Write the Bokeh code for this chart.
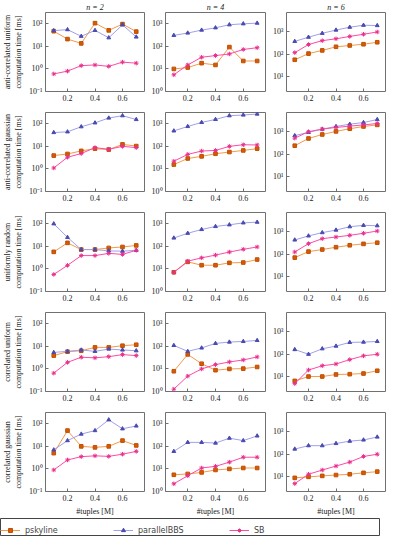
from bokeh.plotting import figure
from bokeh.layouts import column, row
from bokeh.models import Range1d, FixedTicker, CustomJSTickFormatter, Legend, LegendItem
from bokeh.embed import file_html
from bokeh.resources import INLINE

# ---------------- data ----------------
tuples_m = [0.1, 0.2, 0.3, 0.4, 0.5, 0.6, 0.7]
dims = ["n = 2", "n = 4", "n = 6"]
distributions = ["anti-correlated uniform", "anti-correlated gaussian",
                 "uniformly random", "correlated uniform", "correlated gaussian"]
series_names = ["pskyline", "parallelBBS", "SB"]

# anti-correlated uniform
acu_n2_pskyline = [47, 21, 13.5, 107, 51, 97, 45]
acu_n2_parallelbbs = [50, 55, 28, 51, 24, 90, 26]
acu_n2_sb = [0.6, 0.8, 1.4, 1.5, 1.3, 2.0, 1.8]
acu_n4_pskyline = [10, 11.5, 18, 15, 93, 22.5, 22.5]
acu_n4_parallelbbs = [307, 390, 525, 665, 905, 1000, 1070]
acu_n4_sb = [5.5, 15, 33, 39, 46, 73, 87]
acu_n6_pskyline = [57, 107, 148, 214, 245, 278, 340]
acu_n6_parallelbbs = [372, 570, 850, 1180, 1580, 1930, 1870]
acu_n6_sb = [118, 270, 400, 485, 615, 770, 970]

# anti-correlated gaussian
acg_n2_pskyline = [3.9, 4.6, 6.3, 7.9, 7.2, 12.2, 10.3]
acg_n2_parallelbbs = [41, 44, 74, 110, 180, 228, 155]
acg_n2_sb = [1.1, 3.3, 4.8, 8.8, 7.4, 10, 8.8]
acg_n4_pskyline = [15.6, 29, 36, 47, 56, 66, 79]
acg_n4_parallelbbs = [485, 760, 1150, 1560, 2280, 2450, 2700]
acg_n4_sb = [22, 44, 62, 66, 100, 118, 115]
acg_n6_pskyline = [240, 500, 750, 1030, 1350, 1700, 2000]
acg_n6_parallelbbs = [670, 935, 1300, 1700, 2150, 2550, 3450]
acg_n6_sb = [515, 1000, 1300, 1540, 1760, 2000, 2300]

# uniformly random
ur_n2_pskyline = [5.7, 14.3, 7.2, 7.2, 8.5, 9.4, 11]
ur_n2_parallelbbs = [100, 25, 7.2, 7.2, 6.3, 6.1, 6.7]
ur_n2_sb = [0.57, 1.44, 3.9, 3.9, 4.9, 4.4, 6.7]
ur_n4_pskyline = [7.1, 20.6, 14.6, 14.6, 18.6, 19.2, 26]
ur_n4_parallelbbs = [235, 380, 560, 760, 900, 1100, 1180]
ur_n4_sb = [7.1, 22, 31, 41, 56, 74, 94]
ur_n6_pskyline = [71, 131, 162, 205, 250, 288, 325]
ur_n6_parallelbbs = [430, 650, 910, 1180, 1660, 1910, 1830]
ur_n6_sb = [126, 295, 490, 580, 690, 850, 1070]

# correlated uniform
cu_n2_pskyline = [3.9, 5.8, 6.4, 9.0, 9.0, 10.7, 11.8]
cu_n2_parallelbbs = [5.4, 6.0, 6.9, 6.0, 7.6, 6.9, 6.4]
cu_n2_sb = [0.65, 1.96, 3.3, 3.1, 3.5, 4.3, 3.9]
cu_n4_pskyline = [7.9, 44, 17, 8.8, 10, 10.3, 12.2]
cu_n4_parallelbbs = [110, 60, 85, 135, 155, 165, 183]
cu_n4_sb = [1.27, 4.8, 10, 15.5, 20.4, 25, 34]
cu_n6_pskyline = [6.6, 10.3, 10.3, 12.7, 13.1, 14, 18.6]
cu_n6_parallelbbs = [162, 100, 175, 230, 335, 345, 370]
cu_n6_sb = [5.0, 20, 31, 37, 58, 85, 100]

# correlated gaussian
cg_n2_pskyline = [5, 50, 10, 9, 10, 18, 11]
cg_n2_parallelbbs = [7, 18, 35, 50, 150, 60, 80]
cg_n2_sb = [0.9, 2.5, 3.5, 3.8, 3.6, 4.5, 6]
cg_n4_pskyline = [5.5, 6, 7, 9, 10, 11, 11]
cg_n4_parallelbbs = [60, 150, 150, 140, 230, 180, 290]
cg_n4_sb = [2.2, 5, 11, 13, 20, 33, 33]
cg_n6_pskyline = [9, 10, 11, 12, 13, 15, 17]
cg_n6_parallelbbs = [170, 240, 240, 300, 380, 430, 580]
cg_n6_sb = [5, 13, 20, 30, 45, 80, 100]

y_ticks_by_col = [[0.1, 1, 10, 100], [1, 10, 100, 1000], [10, 100, 1000]]
x_ticks = [0.2, 0.4, 0.6]

panels = [
    [(acu_n2_pskyline, acu_n2_parallelbbs, acu_n2_sb),
     (acu_n4_pskyline, acu_n4_parallelbbs, acu_n4_sb),
     (acu_n6_pskyline, acu_n6_parallelbbs, acu_n6_sb)],
    [(acg_n2_pskyline, acg_n2_parallelbbs, acg_n2_sb),
     (acg_n4_pskyline, acg_n4_parallelbbs, acg_n4_sb),
     (acg_n6_pskyline, acg_n6_parallelbbs, acg_n6_sb)],
    [(ur_n2_pskyline, ur_n2_parallelbbs, ur_n2_sb),
     (ur_n4_pskyline, ur_n4_parallelbbs, ur_n4_sb),
     (ur_n6_pskyline, ur_n6_parallelbbs, ur_n6_sb)],
    [(cu_n2_pskyline, cu_n2_parallelbbs, cu_n2_sb),
     (cu_n4_pskyline, cu_n4_parallelbbs, cu_n4_sb),
     (cu_n6_pskyline, cu_n6_parallelbbs, cu_n6_sb)],
    [(cg_n2_pskyline, cg_n2_parallelbbs, cg_n2_sb),
     (cg_n4_pskyline, cg_n4_parallelbbs, cg_n4_sb),
     (cg_n6_pskyline, cg_n6_parallelbbs, cg_n6_sb)],
]

# ---------------- style ----------------
FONT = "Liberation Serif"
FS = "8px"
FRAME_COLOR = "#707070"
y_ranges = [(10 ** -1, 10 ** 2.5), (1, 10 ** 3.5), (10 ** 0.35, 10 ** 3.85)]
styles = [
    dict(line="#f39a4c", marker="square", size=3.6, fill="#d45a08", mline="#c05000"),
    dict(line="#a0a0ec", marker="triangle", size=3.8, fill="#4a4ab0", mline="#4a4ab0"),
    dict(line="#ff4aa5", marker="asterisk", size=4.5, fill="#e8308c", mline="#e8308c"),
]

sup_js = """
const e = Math.round(Math.log10(tick));
const sup = {'-':'\u207b','0':'\u2070','1':'\u00b9','2':'\u00b2','3':'\u00b3','4':'\u2074','5':'\u2075'};
let s = '';
for (const ch of String(e)) { s += sup[ch]; }
return '10' + s;
"""

frame_w = [99, 100, 99]
border_l = [40, 18, 18]
border_r = [3, 3, 2]
FRAME_H = 79


def make_panel(r, c):
    top = (r == 0)
    bottom = (r == len(panels) - 1)
    p = figure(frame_width=frame_w[c], frame_height=FRAME_H,
               y_axis_type="log",
               x_range=Range1d(0.04, 0.76),
               y_range=Range1d(*y_ranges[c]),
               toolbar_location=None, output_backend="svg",
               min_border_left=border_l[c], min_border_right=border_r[c],
               min_border_top=11 if top else 8,
               min_border_bottom=24 if bottom else 13)
    if top:
        p.title.text = dims[c]
        p.title.align = "center"
        p.title.text_font = FONT
        p.title.text_font_size = FS
        p.title.text_font_style = "italic"
        p.title.standoff = 1
        p.title.text_color = "#222222"
    p.grid.visible = False
    p.outline_line_color = FRAME_COLOR
    p.outline_line_width = 1
    for ax in (p.xaxis[0], p.yaxis[0]):
        ax.axis_line_color = None
        ax.major_tick_in = 3
        ax.major_tick_out = 0
        ax.major_tick_line_color = FRAME_COLOR
        ax.minor_tick_line_color = None
        ax.major_label_text_font = FONT
        ax.major_label_text_font_size = FS
        ax.major_label_text_color = "#222222"
        ax.major_label_standoff = 3
        ax.axis_label_text_font = FONT
        ax.axis_label_text_font_size = FS
        ax.axis_label_text_font_style = "normal"
        ax.axis_label_text_color = "#222222"
        ax.axis_label_standoff = 3
    p.xaxis.ticker = FixedTicker(ticks=x_ticks)
    p.yaxis.ticker = FixedTicker(ticks=y_ticks_by_col[c])
    p.yaxis.formatter = CustomJSTickFormatter(code=sup_js)
    if c == 0:
        p.yaxis.axis_label = distributions[r] + "\ncomputation time [ms]"
    if bottom:
        p.xaxis.axis_label = "#tuples [M]"
    for vals, st in zip(panels[r][c], styles):
        p.line(tuples_m, vals, line_color=st["line"], line_width=1)
        p.scatter(tuples_m, vals, marker=st["marker"], size=st["size"],
                  fill_color=st["fill"], line_color=st["mline"], line_width=1)
    return p


rows = []
for r in range(len(panels)):
    rows.append(row(*[make_panel(r, c) for c in range(3)]))

# ---------------- legend strip ----------------
lf = figure(width=380, height=18, x_range=Range1d(0, 1), y_range=Range1d(0, 1),
            toolbar_location=None, output_backend="svg", min_border=0)
lf.axis.visible = False
lf.grid.visible = False
lf.outline_line_color = "#444444"
legend_x = [0, 113, 229]
hidden_x = [-5, -4]
hidden_y = [-5, -4]
for name, st, lx in zip(series_names, styles, legend_x):
    lr = lf.line(hidden_x, hidden_y, line_color=st["line"], line_width=1)
    sr = lf.scatter(hidden_x, hidden_y, marker=st["marker"], size=st["size"],
                    fill_color=st["fill"], line_color=st["mline"], line_width=1)
    leg = Legend(items=[LegendItem(label=name, renderers=[lr, sr])],
                 location=(lx, 1), orientation="horizontal",
                 border_line_color=None, background_fill_alpha=0,
                 padding=2, margin=0, glyph_width=20, glyph_height=10,
                 label_text_font="DejaVu Sans", label_text_font_size="8px",
                 label_standoff=5, label_height=10)
    lf.add_layout(leg)

layout = column(*rows, lf)

with open("out.html", "w") as f:
    f.write(file_html(layout, INLINE))
